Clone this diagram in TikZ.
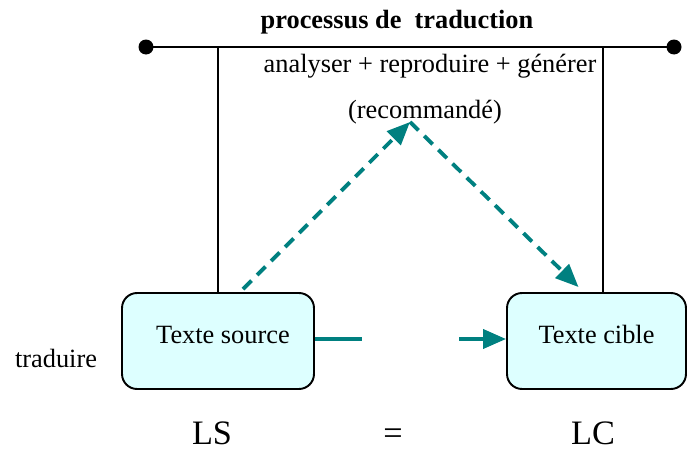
\documentclass[tikz,border=0pt]{standalone}
\usepackage{fontspec}
\setmainfont{Liberation Serif}
\usepackage{tikz}
\usetikzlibrary{arrows.meta}
\usetikzlibrary{calc}
\definecolor{sarcelle}{RGB}{0,128,128}
\definecolor{bleuclair}{RGB}{221,255,255}
\tikzset{boite/.style={fill=bleuclair, draw=black, line width=1.1pt, rounded corners=0.3cm,
  minimum width=3.84cm, minimum height=1.92cm, text depth=0.26cm, font=\fontsize{15}{18}\selectfont}}
\tikzset{fleche/.style={sarcelle, line width=2.2pt, >={Triangle[length=0.46cm, width=0.38cm]}}}
\tikzset{pointille/.style={fleche, dash pattern=on 6.8pt off 4.5pt}}
\tikzset{cadre/.style={black, line width=1.1pt}}
\tikzset{etiq/.style={font=\fontsize{15}{18}\selectfont, inner sep=0pt, anchor=base}}
\tikzset{grand/.style={font=\fontsize{19.5}{22}\selectfont, inner sep=0pt, anchor=base}}

\begin{document}
\begin{tikzpicture}[x=0.02cm, y=-0.02cm]
\useasboundingbox (0,0) rectangle (687,450);
% les deux textes
\node[boite] (source) at (218,341) {\hspace*{0.2cm}Texte source};
\node[boite, minimum width=3.58cm] (cible) at (596.5,341) {Texte cible};
% ligne du processus
\coordinate (gauche) at (146,47);
\coordinate (droite) at (674,47);
\coordinate (haut) at (603,47);
\draw[cadre] (gauche) -- (droite);
\foreach \p in {gauche,droite} {
 \fill (\p) circle[radius=0.15cm];
}
\draw[cadre] (source.north) -- (source.north |- gauche);
\draw[cadre] (cible.north -| haut) -- (haut);
% chemin recommande
\coordinate (sommet) at (410,122);
\draw[pointille, ->] ($(source.north)+(25,-3)$) -- (sommet);
\draw[pointille, ->] (sommet) -- ($(cible.north)+(-18,-5)$);
% traduction directe
\coordinate (milieu1) at (362,339);
\coordinate (milieu2) at (459,339);
\draw[fleche] (source.east |- milieu1) -- (milieu1);
\draw[fleche, ->] (milieu2) -- (cible.west |- milieu2);
% textes
\node[etiq, font=\bfseries\fontsize{15}{18}\selectfont] (titre) at (397,28) {processus de\ \ traduction};
\node[etiq] (etapes) at (430,72) {analyser + reproduire + générer};
\node[etiq] (conseil) at (425,118) {(recommandé)};
\node[etiq] (traduire) at (56,367) {traduire};
\node[grand] (ls) at (212,444) {LS};
\node[grand] (egal) at (393,444) {=};
\node[grand] (lc) at (593,444) {LC};
\end{tikzpicture}
\end{document}
